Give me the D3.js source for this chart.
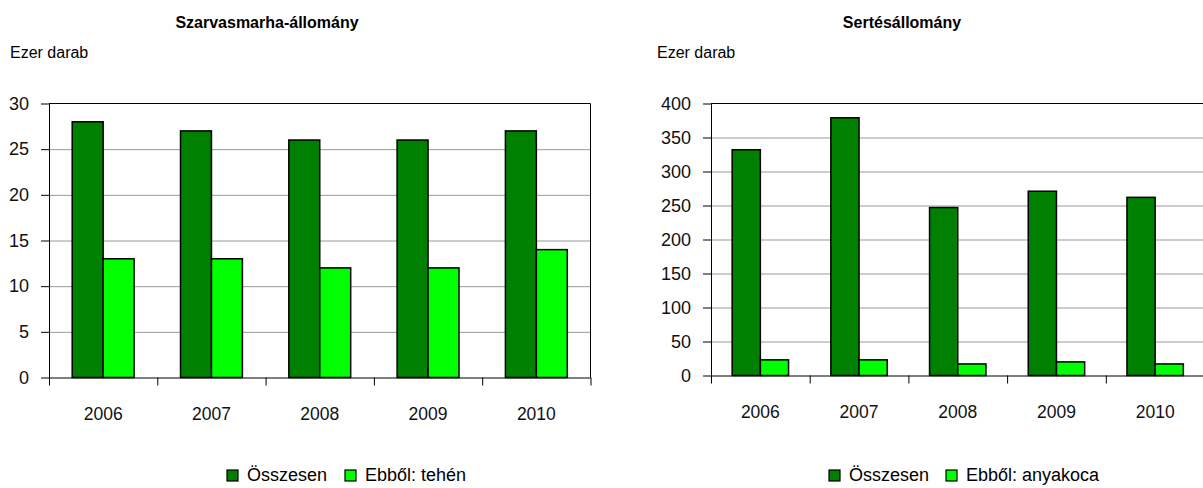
<!DOCTYPE html>
<html>
<head>
<meta charset="utf-8">
<script src="https://cdn.jsdelivr.net/npm/d3@7"></script>
<style>
  html, body { margin: 0; padding: 0; background: #fff; }
  svg { display: block; font-family: "Liberation Sans", Arial, sans-serif; }
  .grid line { stroke: #999; stroke-width: 1; }
  .grid .domain { display: none; }
  .axis path, .axis line { stroke: #000; stroke-width: 1; }
  .axis text { fill: #111; }
  .bar { stroke: #000; stroke-width: 1.5; }
</style>
</head>
<body>
<svg id="chart" width="1203" height="488"></svg>
<script>
// data
const years = ['2006', '2007', '2008', '2009', '2010'];
const cattleTotal = [28, 27, 26, 26, 27];
const cattleCows = [13, 13, 12, 12, 14];
const pigTotal = [332, 379, 247, 271, 262];
const pigSows = [23, 23, 17, 20, 17];
const cattleTicks = [0, 5, 10, 15, 20, 25, 30];
const pigTicks = [0, 50, 100, 150, 200, 250, 300, 350, 400];
const cattleSeries = ['Összesen', 'Ebből: tehén'];
const pigSeries = ['Összesen', 'Ebből: anyakoca'];
const colors = ['#008000', '#00ff00'];

const svg = d3.select('#chart');

function panel({title, titleX, unitX, left, right, top, bottom, ticks, series, values, legendX, legendGap, border}){
    const g = svg.append('g');

    g.append('text')
        .attr('x', titleX).attr('y', 28)
        .attr('text-anchor', 'middle')
        .attr('font-size', 16).attr('font-weight', 'bold')
        .text(title);

    g.append('text')
        .attr('x', unitX).attr('y', 58)
        .attr('font-size', 16)
        .text('Ezer darab');

    const y = d3.scaleLinear().domain([0, d3.max(ticks)]).range([bottom, top]);
    const x0 = d3.scaleBand().domain(years).range([left, right]).padding(0);
    const x1 = d3.scaleBand().domain(series).range([0, x0.bandwidth()]).paddingInner(0).paddingOuter(0.75);
    const xi = d3.scaleLinear().domain([0, years.length]).range([left, right]);

    // gridlines
    g.append('g').attr('class', 'grid')
        .attr('transform', `translate(${left},0)`)
        .call(d3.axisLeft(y).tickValues(ticks.slice(1, -1)).tickSize(-(right - left)).tickFormat(''));

    // plot frame: top, and right side where it fits
    g.append('line')
        .attr('x1', left).attr('x2', right).attr('y1', y(d3.max(ticks))).attr('y2', y(d3.max(ticks)))
        .attr('stroke', '#000');
    if(border){
        g.append('line')
            .attr('x1', right).attr('x2', right).attr('y1', top).attr('y2', bottom)
            .attr('stroke', '#000');
    }

    // bars
    const rows = years.map((yr, i) => ({year: yr, vals: values.map(v => v[i])}));
    const grp = g.selectAll('g.cat').data(rows).join('g')
        .attr('class', 'cat')
        .attr('transform', d => `translate(${x0(d.year)},0)`);
    grp.selectAll('rect').data(d => d.vals.map((v, k) => ({s: series[k], v, k}))).join('rect')
        .attr('class', 'bar')
        .attr('x', d => x1(d.s))
        .attr('y', d => y(d.v))
        .attr('width', x1.bandwidth())
        .attr('height', d => bottom - y(d.v))
        .attr('fill', d => colors[d.k]);

    // y axis
    g.append('g').attr('class', 'axis')
        .attr('transform', `translate(${left},0)`)
        .call(d3.axisLeft(y).tickValues(ticks).tickSize(8).tickPadding(12).tickSizeOuter(0))
        .call(a => a.selectAll('text').attr('font-size', 18));

    // x axis: ticks on category boundaries
    g.append('g').attr('class', 'axis')
        .attr('transform', `translate(0,${bottom})`)
        .call(d3.axisBottom(xi).ticks(years.length).tickSize(8).tickFormat('').tickSizeOuter(0));

    // x axis: category labels
    g.append('g').attr('class', 'axis labels')
        .attr('transform', `translate(0,${bottom})`)
        .call(d3.axisBottom(x0).tickSize(0).tickPadding(30))
        .call(a => a.select('.domain').remove())
        .call(a => a.selectAll('text').attr('font-size', 17.5));

    // legend
    const leg = g.append('g').attr('transform', `translate(${legendX},0)`);
    series.forEach((s, k) => {
        const lx = k * legendGap;
        leg.append('rect')
            .attr('x', lx).attr('y', 470).attr('width', 11).attr('height', 11)
            .attr('fill', colors[k]).attr('stroke', '#000').attr('stroke-width', 1.2);
        leg.append('text')
            .attr('x', lx + 20).attr('y', 481)
            .attr('font-size', 18)
            .text(s);
    });
}

panel({
    title: 'Szarvasmarha-állomány', titleX: 267, unitX: 10,
    left: 49, right: 590.5, top: 103.5, bottom: 377.5,
    ticks: cattleTicks, series: cattleSeries, values: [cattleTotal, cattleCows],
    legendX: 227, legendGap: 118, border: true
});

panel({
    title: 'Sertésállomány', titleX: 902, unitX: 657,
    left: 711, right: 1204.5, top: 103.5, bottom: 375.5,
    ticks: pigTicks, series: pigSeries, values: [pigTotal, pigSows],
    legendX: 829, legendGap: 117, border: false
});
</script>
</body>
</html>
